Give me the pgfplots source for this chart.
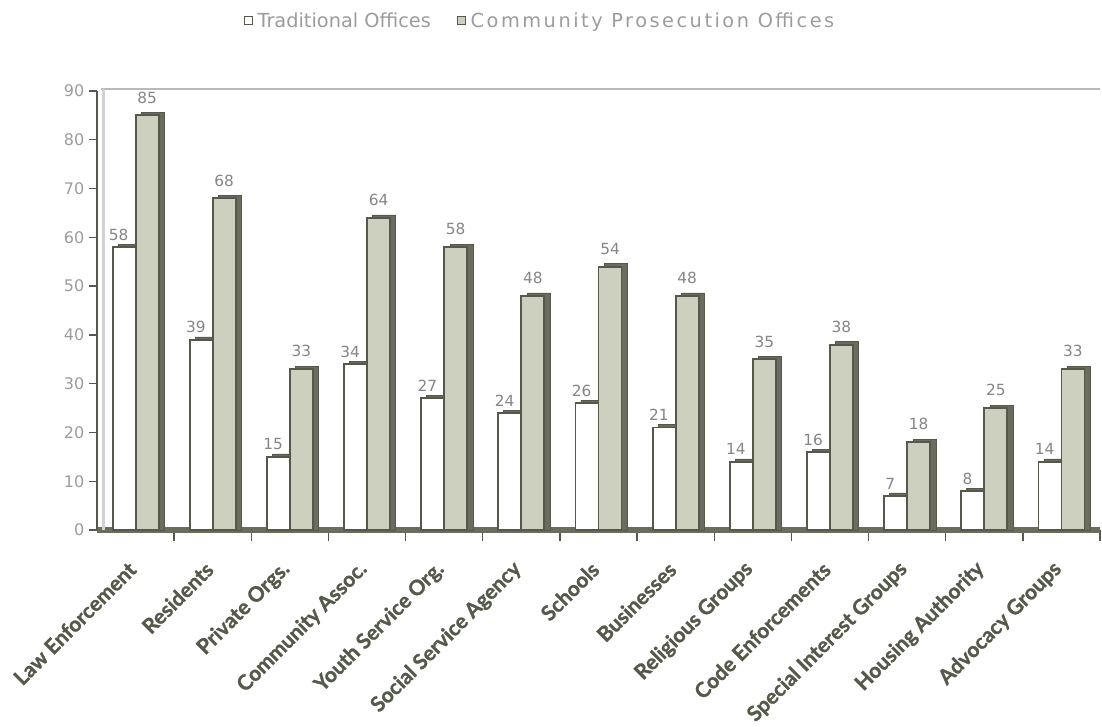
\documentclass[border=0pt]{standalone}
\usepackage{pgfplots}
\pgfplotsset{compat=1.18}
\usepackage{pgfplotstable}
\usepackage{fontspec}
\setmainfont{DejaVu Sans}
\newfontfamily\labfont[BoldFeatures={FakeBold=1.2}]{Lato}
\definecolor{dark}{HTML}{55584A}
\definecolor{side}{HTML}{6A6C5E}
\definecolor{cpfill}{HTML}{CDD0BE}
\definecolor{labcol}{HTML}{55594A}
\definecolor{txtgray}{HTML}{858585}
\definecolor{tickgray}{HTML}{9C9C9C}
\pgfplotstableread{
x trad comm
0 58 85
1 39 68
2 15 33
3 34 64
4 27 58
5 24 48
6 26 54
7 21 48
8 14 35
9 16 38
10 7 18
11 8 25
12 14 33
}\data
\begin{document}
\begin{tikzpicture}
\begin{axis}[
  scale only axis, width=752.25pt, height=329.25pt,
  xmin=-0.5, xmax=12.5, ymin=0, ymax=90,
  ybar, bar width=17.25pt,
  axis x line=bottom, axis y line=left,
  axis line style={-, dark},
  x axis line style={line width=4.5pt, side},
  y axis line style={line width=1.4pt},
  xtick={0,...,12},
  xticklabels={Law Enforcement,Residents,Private Orgs.,Community Assoc.,Youth Service Org.,Social Service Agency,Schools,Businesses,Religious Groups,Code Enforcements,Special Interest Groups,Housing Authority,Advocacy Groups},
  major x tick style={draw=none},
  minor xtick={0.5,1.5,...,12.5},
  minor x tick style={dark, line width=1pt},
  minor tick length=8pt,
  tick align=outside,
  xticklabel style={yshift=-18.5pt, rotate=45, anchor=east, font=\labfont\bfseries\fontsize{15.7}{18}\selectfont, text=labcol},
  ytick={0,10,...,90},
  major tick length=6pt,
  major y tick style={dark, line width=1pt},
  yticklabel style={font=\fontsize{12}{14}\selectfont, text=tickgray},
  /pgf/number format/assume math mode=true,
  legend style={at={(0.443,1.16)}, anchor=center, draw=none, fill=none, legend columns=2,
    font=\fontsize{14.5}{16}\selectfont, text=tickgray, nodes={inner xsep=3.5pt},
    /tikz/every even column/.append style={column sep=16pt}},
  legend image code/.code={\draw[#1, line width=0.9pt] (0pt,-3pt) rectangle (6pt,3pt);},
  clip=false,
]
\draw[gray!55, line width=1.5pt] (axis cs:-0.45,90.5) -- (axis cs:12.5,90.5);
\draw[gray!35, line width=2pt] (axis cs:-0.42,0) -- (axis cs:-0.42,90.5);
\addplot[fill=side, draw=dark, bar shift=-4.6pt, forget plot] table[x=x, y expr=\thisrow{trad}+0.6] {\data};
\addplot[fill=white, draw=dark, line width=1.4pt, bar shift=-8.625pt,
  nodes near coords, every node near coord/.append style={font=\fontsize{11.5}{13}\selectfont, text=txtgray, xshift=-4pt, yshift=1pt}] table[x=x, y=trad] {\data};
\addplot[fill=side, draw=dark, bar shift=12.9pt, forget plot] table[x=x, y expr=\thisrow{comm}+0.6] {\data};
\addplot[fill=cpfill, draw=dark, line width=1.4pt, bar shift=8.625pt,
  nodes near coords, every node near coord/.append style={font=\fontsize{11.5}{13}\selectfont, text=txtgray, yshift=5pt}] table[x=x, y=comm] {\data};
\legend{Traditional Offices, {\addfontfeatures{LetterSpace=13}Community Prosecution Offices}}
\end{axis}
\pgfresetboundingbox
\path (-72.75pt,-147.75pt) rectangle (753.75pt,397.5pt);
\end{tikzpicture}
\end{document}
